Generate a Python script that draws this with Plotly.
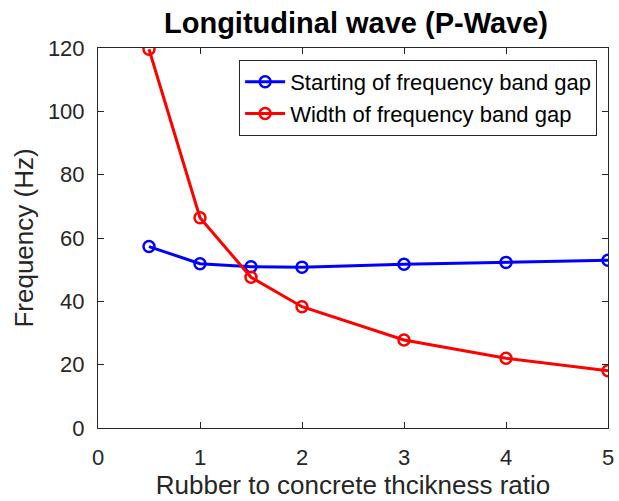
import plotly.graph_objects as go

ratio = [0.5, 1, 1.5, 2, 3, 4, 5]
start_freq = [57.3, 51.9, 50.9, 50.8, 51.7, 52.3, 53.0]
width_freq = [119.6, 66.4, 47.6, 38.3, 27.8, 22.0, 18.1]
x_ticks = [0, 1, 2, 3, 4, 5]
y_ticks = [0, 20, 40, 60, 80, 100, 120]

font_family = "Liberation Sans, Arial, sans-serif"
axis_color = "#262626"

fig = go.Figure()
fig.add_trace(go.Scatter(
    x=ratio, y=start_freq, mode="lines+markers",
    name="Starting of frequency band gap",
    line=dict(color="#0000ff", width=3),
    marker=dict(symbol="circle-open", size=11, color="#0000ff", line=dict(width=2.5)),
))
fig.add_trace(go.Scatter(
    x=ratio, y=width_freq, mode="lines+markers",
    name="Width of frequency band gap",
    line=dict(color="#ff0000", width=3),
    marker=dict(symbol="circle-open", size=11, color="#ff0000", line=dict(width=2.5)),
))

axis_common = dict(
    showline=True, linecolor=axis_color, linewidth=1, mirror="ticks",
    ticks="inside", ticklen=6, tickcolor=axis_color, tickwidth=1,
    showgrid=False, zeroline=False,
    tickfont=dict(family=font_family, size=22, color=axis_color),
    ticklabeloverflow="allow",
)

fig.update_layout(
    width=619, height=501,
    margin=dict(l=98, r=5, t=48, b=73),
    paper_bgcolor="white", plot_bgcolor="white",
    title=dict(text="<b>Longitudinal wave (P-Wave)</b>", x=(98 + 614) / 2 / 619, xanchor="center",
               y=1 - 23 / 501, yanchor="middle",
               font=dict(family=font_family, size=29, color="black")),
    xaxis=dict(range=[0, 5], tickvals=x_ticks, ticktext=[str(v) for v in x_ticks],
               ticklabelstandoff=10,
               title=dict(text="Rubber to concrete thcikness ratio", standoff=6,
                          font=dict(family=font_family, size=26, color=axis_color)),
               **axis_common),
    yaxis=dict(range=[0, 120], tickvals=y_ticks, ticktext=[str(v) for v in y_ticks],
               ticklabelstandoff=8,
               title=dict(text="Frequency (Hz)", standoff=6,
                          font=dict(family=font_family, size=26, color=axis_color)),
               **axis_common),
    legend=dict(x=(603 - 98) / 516, y=(428 - 60) / 380, xanchor="right", yanchor="top",
                bgcolor="white", bordercolor=axis_color, borderwidth=1,
                font=dict(family=font_family, size=22, color="black"),
                tracegroupgap=0, itemwidth=40),
    showlegend=True,
)

fig.write_html("out.html")
